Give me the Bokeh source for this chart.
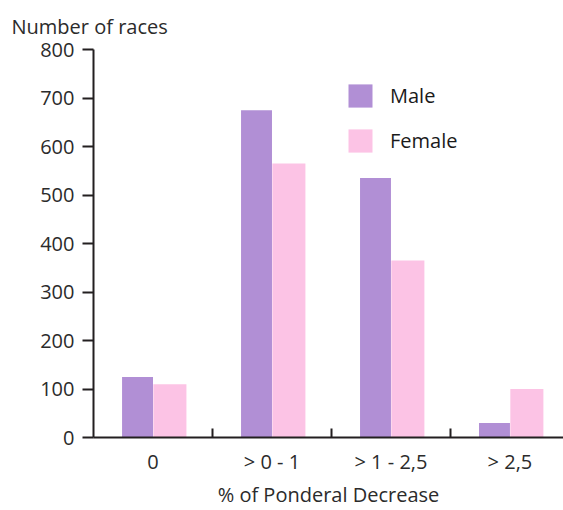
import numpy as np
from bokeh.plotting import figure
from bokeh.models import (ColumnDataSource, FixedTicker, Range1d, Legend, LegendItem)
from bokeh.transform import dodge
from bokeh.embed import file_html
from bokeh.resources import INLINE

categories = ["0", "> 0 - 1", "> 1 - 2,5", "> 2,5"]
male = [125, 675, 535, 30]
female = [110, 565, 365, 100]
y_ticks = [0, 100, 200, 300, 400, 500, 600, 700, 800]

FONT = "Open Sans"
TXT = "#2b2b2b"

centers = np.arange(len(categories)) + 0.5
src = ColumnDataSource(dict(x=centers, male=male, female=female))

p = figure(width=563, height=510, output_backend="svg", toolbar_location=None,
           x_range=Range1d(0, 3.95), y_range=Range1d(0, 800),
           min_border_left=93, min_border_top=49, min_border_right=0, min_border_bottom=73,
           title="Number of races")
p.outline_line_color = None
p.grid.grid_line_color = None
p.background_fill_color = "white"

p.title.align = "left"
p.title.offset = -82
p.title.standoff = 19
p.title.text_font = FONT
p.title.text_font_size = "20px"
p.title.text_font_style = "normal"
p.title.text_color = TXT

r_m = p.vbar(x=dodge("x", -0.13, range=p.x_range), top="male", width=0.26, source=src,
             fill_color="#b18fd5", line_color=None)
r_f = p.vbar(x=dodge("x", 0.142, range=p.x_range), top="female", width=0.278, source=src,
             fill_color="#fcc3e5", line_color=None)

xa = p.xaxis[0]
xa.ticker = FixedTicker(ticks=list(centers), minor_ticks=[1, 2, 3])
xa.major_label_overrides = {float(c): lab for c, lab in zip(centers, categories)}
xa.major_tick_line_color = None
xa.major_tick_in = 0
xa.major_tick_out = 0
xa.minor_tick_in = 9
xa.minor_tick_out = 0
xa.minor_tick_line_color = "#231f20"
xa.minor_tick_line_width = 2
xa.axis_line_color = "#231f20"
xa.axis_line_width = 2
xa.major_label_standoff = 10
xa.major_label_text_font = FONT
xa.major_label_text_font_size = "20px"
xa.major_label_text_color = TXT
xa.axis_label = "% of Ponderal Decrease"
xa.axis_label_standoff = 3
xa.axis_label_text_font = FONT
xa.axis_label_text_font_size = "20px"
xa.axis_label_text_font_style = "normal"
xa.axis_label_text_color = TXT

ya = p.yaxis[0]
ya.ticker = FixedTicker(ticks=y_ticks, minor_ticks=[])
ya.major_tick_in = 0
ya.major_tick_out = 11
ya.major_tick_line_width = 2
ya.major_tick_line_color = "#231f20"
ya.axis_line_color = "#231f20"
ya.axis_line_width = 2
ya.major_label_standoff = 8
ya.major_label_text_font = FONT
ya.major_label_text_font_size = "20px"
ya.major_label_text_color = TXT

legend = Legend(items=[LegendItem(label="Male", renderers=[r_m]),
                       LegendItem(label="Female", renderers=[r_f])],
                location=(252, 282), padding=0, margin=0, spacing=16,
                glyph_width=30, glyph_height=29, label_standoff=15,
                border_line_color=None, background_fill_alpha=0,
                label_text_font=FONT, label_text_font_size="20px", label_text_color="#1a1a1a")
p.add_layout(legend)

open("out.html", "w").write(file_html(p, INLINE))
